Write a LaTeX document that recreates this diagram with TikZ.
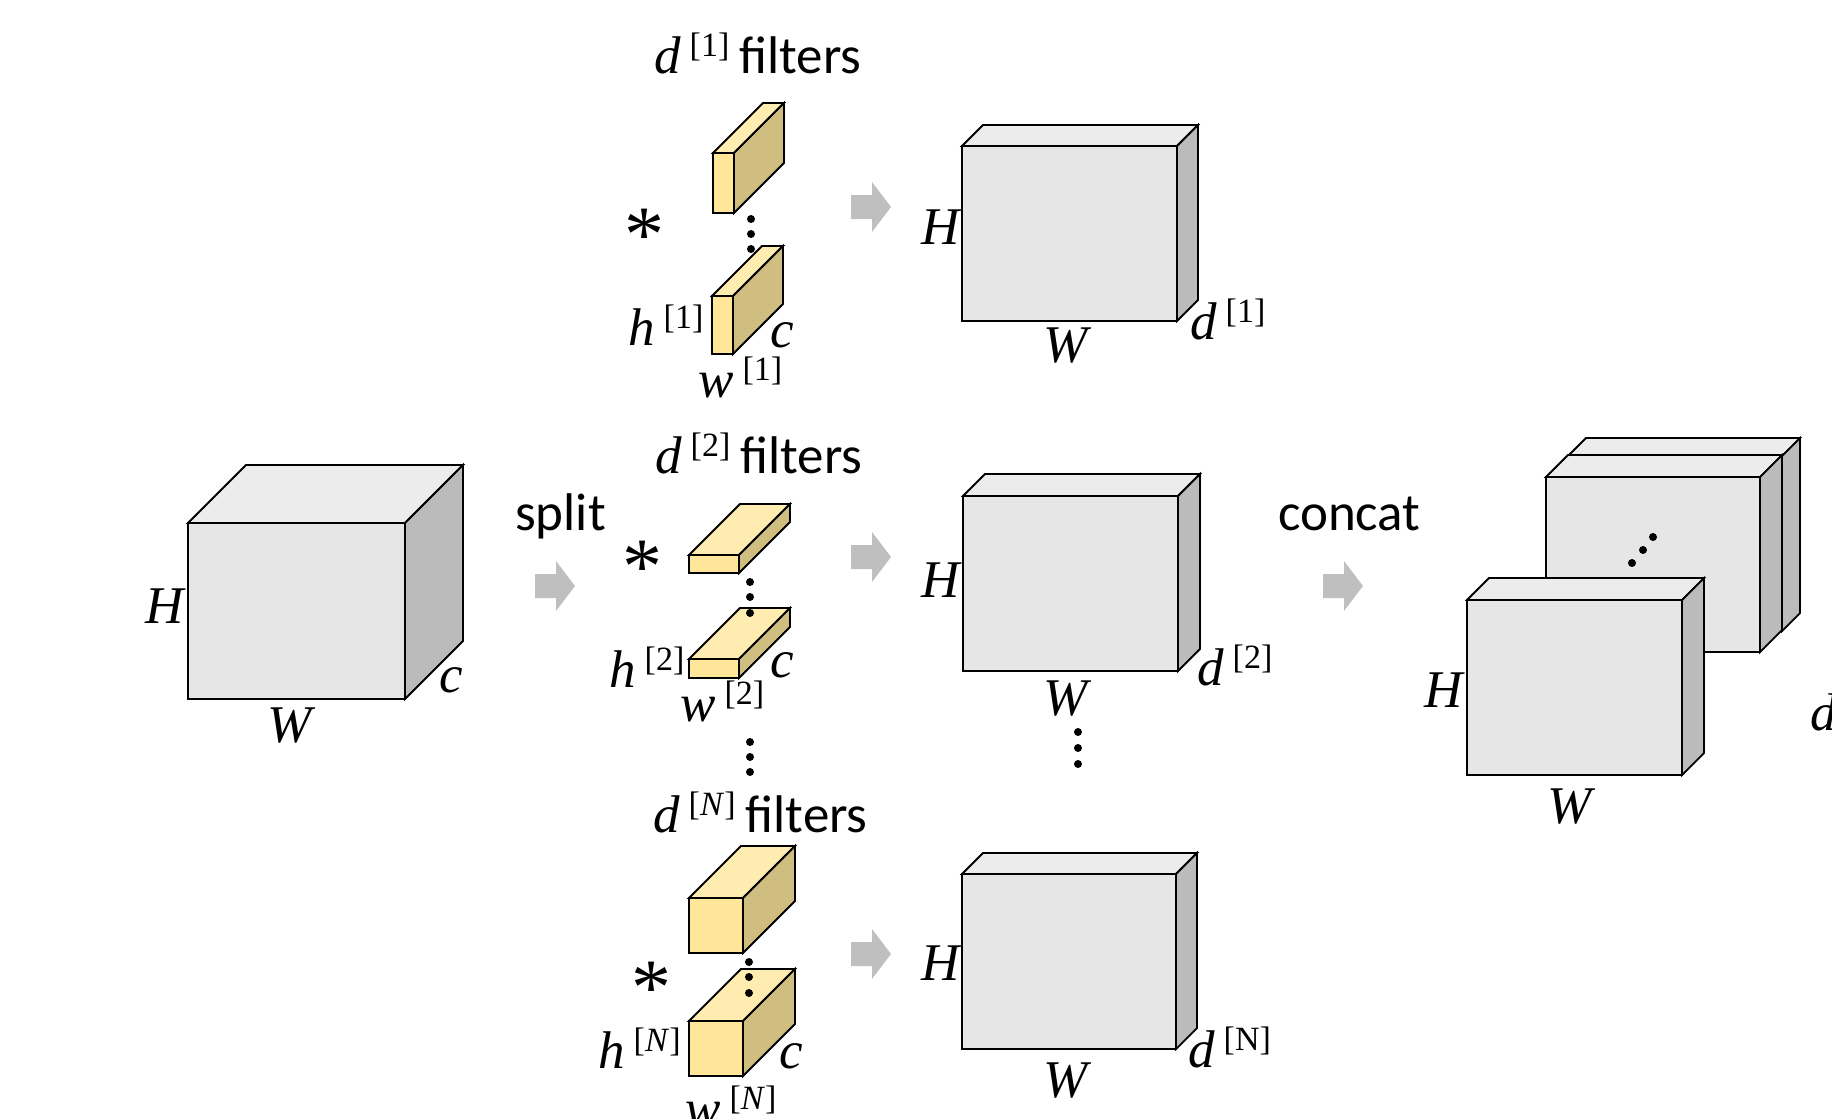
\documentclass[tikz,border=0pt]{standalone}
\usepackage{fontspec}
\setmainfont{Liberation Serif}
\newfontfamily\tnr{Liberation Serif}
\newfontfamily\calfont{Carlito}
\usetikzlibrary{calc}

\definecolor{cubefront}{RGB}{230,230,230}
\definecolor{cubetop}{RGB}{236,236,236}
\definecolor{cubeside}{RGB}{187,187,187}
\definecolor{filtfront}{RGB}{255,230,153}
\definecolor{filttop}{RGB}{255,236,176}
\definecolor{filtside}{RGB}{207,190,128}
\definecolor{arrowgray}{RGB}{191,191,191}

% raised bracket index after a letter
\newcommand{\supbr}[1]{\hspace{9pt}\raisebox{17pt}{\fontsize{34}{34}\selectfont\upshape #1}}

% name, x, y (front top left), width, height, depth, colour set
\newcommand{\cuboid}[7]{%
  \node[#7front, minimum width=#4pt, minimum height=#5pt, anchor=north west] (#1) at (#2,#3) {};
  \draw[#7top]  (#1.north west) -- ++(#6,-#6) -- ($(#1.north east)+(#6,-#6)$) -- (#1.north east) -- cycle;
  \draw[#7side] (#1.north east) -- ++(#6,-#6) -- ($(#1.south east)+(#6,-#6)$) -- (#1.south east) -- cycle;
}

% left x, centre y
\newcommand{\blockarrow}[2]{%
  \fill[arrowgray] (#1,#2-12) -- ++(21,0) -- ++(0,-13) -- ++(19,25) -- ++(-19,25)
                   -- ++(0,-13) -- ++(-21,0) -- cycle;
}

\begin{document}
\begin{tikzpicture}[
  x=1pt, y=-1pt,
  edge/.style={draw=black, line width=1.8pt},
  grayfront/.style={rectangle, edge, fill=cubefront, inner sep=0, outer sep=0},
  graytop/.style ={edge, fill=cubetop},
  grayside/.style={edge, fill=cubeside},
  yelfront/.style={rectangle, edge, fill=filtfront, inner sep=0, outer sep=0},
  yeltop/.style  ={edge, fill=filttop},
  yelside/.style ={edge, fill=filtside},
  lbl/.style ={inner sep=0, font=\tnr\fontsize{53}{60}\selectfont\itshape},
  word/.style={inner sep=0, font=\calfont\fontsize{53}{60}\selectfont},
  ast/.style ={inner sep=0, anchor=north, font=\tnr\fontsize{80}{80}\selectfont},
  bullet/.style={circle, fill=black, inner sep=0, minimum size=8pt},
]
\useasboundingbox (0,0) rectangle (1832,1119);

% input
\cuboid{in}{188}{523}{217}{176}{58}{gray}
\node[lbl, anchor=base east] (inH) at (184,623) {H};
\node[lbl, anchor=base]      (inW) at (290,742) {W};
\node[lbl, anchor=base west] (inc) at (439,692) {c};

\node[word, anchor=base west] (split) at (515,530) {split};
\blockarrow{535}{586}

% group 1
\node[lbl, anchor=base west] (g1) at (654,73) {d\supbr{[1]}\hspace{10pt}{\calfont\upshape filters}};
\cuboid{f1a}{713}{153}{21}{60}{50}{yel}
\cuboid{f1b}{712}{296}{21}{58}{50}{yel}
\foreach \y [count=\i] in {219,234,249} \node[bullet] (p1\i) at (751,\y) {};
\node[ast] (s1) at (644,209) {*};
\node[lbl, anchor=base west] (h1) at (628,345) {h\supbr{[1]}};
\node[lbl, anchor=base west] (c1) at (770,347) {c};
\node[lbl, anchor=base west] (w1) at (698,397) {w\supbr{[1]}};
\blockarrow{851}{207}
\cuboid{o1}{962}{146}{215}{175}{21}{gray}
\node[lbl, anchor=base east] (o1H) at (960,244) {H};
\node[lbl, anchor=base]      (o1W) at (1066,362) {W};
\node[lbl, anchor=base west] (o1d) at (1190,339) {d\supbr{[1]}};

% group 2
\node[lbl, anchor=base west] (g2) at (655,473) {d\supbr{[2]}\hspace{10pt}{\calfont\upshape filters}};
\cuboid{f2a}{689}{555}{50}{18}{51}{yel}
\cuboid{f2b}{689}{659}{50}{19}{51}{yel}
\foreach \y [count=\i] in {582,597,613} \node[bullet] (p2\i) at (750,\y) {};
\node[ast] (s2) at (642,541) {*};
\node[lbl, anchor=base west] (h2) at (609,687) {h\supbr{[2]}};
\node[lbl, anchor=base west] (c2) at (770,677) {c};
\node[lbl, anchor=base west] (w2) at (680,721) {w\supbr{[2]}};
\foreach \y [count=\i] in {742,757,772} \node[bullet] (q\i) at (750,\y) {};
\blockarrow{851}{557}
\cuboid{o2}{963}{496}{215}{175}{22}{gray}
\node[lbl, anchor=base east] (o2H) at (960,597) {H};
\node[lbl, anchor=base]      (o2W) at (1066,715) {W};
\node[lbl, anchor=base west] (o2d) at (1197,685) {d\supbr{[2]}};
\foreach \y [count=\i] in {732,748,764} \node[bullet] (r\i) at (1078,\y) {};

% group N
\node[lbl, anchor=base west] (gN) at (653,832) {d\supbr{[\textit{N}]}\hspace{10pt}{\calfont\upshape filters}};
\cuboid{fNa}{689}{898}{54}{55}{52}{yel}
\cuboid{fNb}{689}{1021}{54}{55}{52}{yel}
\foreach \y [count=\i] in {962,977,993} \node[bullet] (pN\i) at (749,\y) {};
\node[ast] (sN) at (651,962) {*};
\node[lbl, anchor=base west] (hN) at (598,1068) {h\supbr{[\textit{N}]}};
\node[lbl, anchor=base west] (cN) at (779,1068) {c};
\node[lbl, anchor=base west] (wN) at (685,1126) {w\supbr{[\textit{N}]}};
\blockarrow{851}{954}
\cuboid{oN}{962}{874}{214}{175}{21}{gray}
\node[lbl, anchor=base east] (oNH) at (960,980) {H};
\node[lbl, anchor=base]      (oNW) at (1066,1097) {W};
\node[lbl, anchor=base west] (oNd) at (1188,1067) {d\supbr{[N]}};

% concat
\node[word, anchor=base west] (concat) at (1278,530) {concat};
\blockarrow{1323}{586}
\cuboid{cb}{1568}{456}{214}{175}{18}{gray}
\cuboid{ca}{1546}{477}{214}{175}{22}{gray}
\node[bullet] (e1) at (1632,563) {};
\node[bullet] (e2) at (1643,550) {};
\node[bullet] (e3) at (1653,537) {};
\cuboid{cf}{1467}{600}{215}{175}{22}{gray}
\node[lbl, anchor=base east] (cfH) at (1463,707) {H};
\node[lbl, anchor=base]      (cfW) at (1570,823) {W};
\node[lbl, anchor=base west] (cfd) at (1810,730) {d};
\end{tikzpicture}
\end{document}
